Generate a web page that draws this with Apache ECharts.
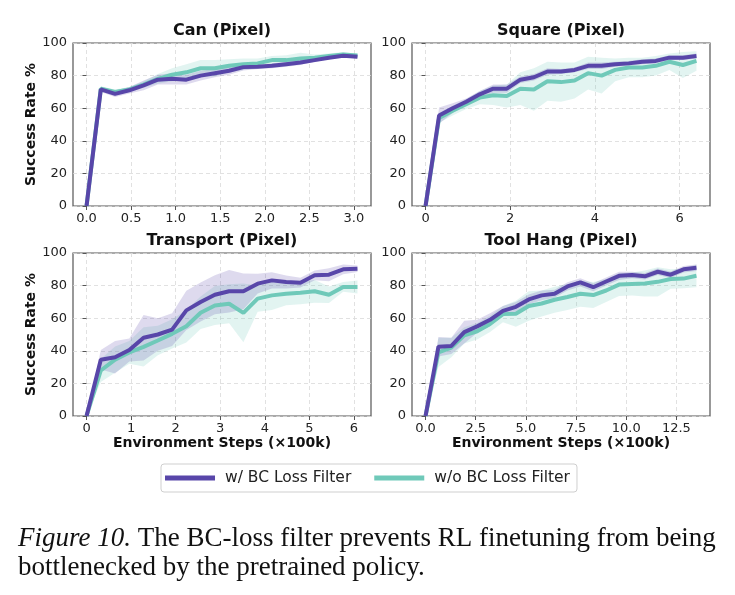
<!DOCTYPE html>
<html>
<head>
<meta charset="utf-8">
<script src="https://cdn.jsdelivr.net/npm/echarts@6/dist/echarts.min.js"></script>
<style>
html, body { margin: 0; padding: 0; background: #fff; }
#chart { width: 735px; height: 595px; }
</style>
</head>
<body>
<div id="chart"></div>
<script>
// legend names
const nameWith = 'w/ BC Loss Filter';
const nameWithout = 'w/o BC Loss Filter';

// Can (Pixel)
const canSteps = [0, 0.16, 0.32, 0.48, 0.64, 0.8, 0.96, 1.12, 1.28, 1.44, 1.6, 1.76, 1.92, 2.08, 2.24, 2.4, 2.56, 2.72, 2.88, 3.04];
const canWith = [0, 71.5, 68.8, 71, 74, 77.5, 78, 77.5, 80, 81.5, 83, 85.2, 85.5, 86, 87, 88, 89.5, 91, 92.2, 91.5];
const canWithStd = [0, 1.5, 2, 2, 3, 3, 3.5, 3, 3, 2.5, 2.5, 2, 1.5, 1.5, 1.5, 1.5, 1, 1, 1, 1];
const canWithout = [0, 72, 70, 71.5, 74.5, 78, 80.5, 82, 84.5, 84.5, 86, 87, 87.5, 89.5, 89.5, 90.5, 91, 92, 93, 92.3];
const canWithoutStd = [0, 1.5, 1.5, 1.5, 2, 3, 4, 5, 5, 5, 4, 3.5, 3, 2.5, 3, 3.5, 2, 1.5, 1.5, 1];
const canTicks = [0, 0.5, 1, 1.5, 2, 2.5, 3];

// Square (Pixel)
const sqSteps = [0, 0.32, 0.64, 0.96, 1.28, 1.6, 1.92, 2.24, 2.56, 2.88, 3.2, 3.52, 3.84, 4.16, 4.48, 4.8, 5.12, 5.44, 5.76, 6.08, 6.4];
const sqWith = [0, 55.5, 60, 64, 68.5, 72, 72, 77.5, 79, 82.5, 82.5, 83.5, 86, 86, 87, 87.5, 88.5, 89, 91, 91, 92];
const sqWithStd = [0, 5, 3, 2, 2, 2.5, 2.5, 2, 2, 2, 1.5, 1.5, 2, 2, 1.5, 1.5, 1.5, 1.5, 1.5, 1.5, 1.5];
const sqWithout = [0, 54, 58.5, 62.5, 66.5, 68, 67.5, 72, 71.5, 76.5, 76, 77, 81.5, 80, 83.5, 85, 85, 86, 88.5, 86.5, 89];
const sqWithoutStd = [0, 3, 3, 3, 4, 6, 7, 10, 13, 12, 12, 11, 10, 11, 7, 6, 6, 6, 5, 8, 6];
const sqTicks = [0, 2, 4, 6];

// Transport (Pixel)
const trSteps = [0, 0.32, 0.64, 0.96, 1.28, 1.6, 1.92, 2.24, 2.56, 2.88, 3.2, 3.52, 3.84, 4.16, 4.48, 4.8, 5.12, 5.44, 5.76, 6.08];
const trWith = [0, 34.5, 36, 40.5, 48, 50, 53, 64.8, 69.9, 74.4, 76.5, 76.5, 81.2, 83.2, 82.2, 81.8, 86.3, 86.7, 90, 90.4];
const trWithStd = [0, 6, 10, 7, 14, 10, 10, 12, 12, 12, 13, 11, 6, 5, 4, 3, 3, 4, 3, 2];
const trWithout = [0, 27.9, 34.6, 39, 42.4, 46.3, 50.4, 55.1, 63.3, 67.8, 68.9, 63.3, 72, 74, 75, 75.6, 76.5, 74.4, 79.2, 79.2];
const trWithoutStd = [0, 7, 8, 7, 12, 9, 9, 10, 10, 12, 12, 18, 8, 9, 7, 7, 7, 5, 3, 4];
const trTicks = [0, 1, 2, 3, 4, 5, 6];

// Tool Hang (Pixel)
const thSteps = [0, 0.643, 1.286, 1.929, 2.571, 3.214, 3.857, 4.5, 5.143, 5.786, 6.429, 7.071, 7.714, 8.357, 9, 9.643, 10.286, 10.929, 11.571, 12.214, 12.857, 13.5];
const thWith = [0, 42.5, 43, 51.5, 55, 59, 64.5, 67, 71.5, 74, 75, 79.5, 82, 79, 82.5, 86, 86.5, 85.7, 88.5, 86.7, 90, 91];
const thWithStd = [0, 6, 5, 7, 4, 4, 3, 3, 3, 3, 2.5, 2.5, 2.5, 2.5, 2.5, 2.5, 2, 2, 2, 2, 2, 2];
const thWithout = [0, 39, 42, 49.5, 52, 56.5, 62.5, 62.7, 67.5, 69, 71.3, 73, 75, 74.2, 77, 80.6, 81, 81.3, 82.3, 84, 84.3, 86];
const thWithoutStd = [0, 9, 6, 5, 5, 5, 5, 8, 9, 8, 8, 8, 8, 8, 7, 7, 7, 8, 9, 6, 6, 7];
const thTicks = [0, 2.5, 5, 7.5, 10, 12.5];

const purple = '#5846a9';
const teal = '#6fc9b9';

const panels = [
  { title: 'Can (Pixel)', steps: canSteps, w: canWith, wStd: canWithStd, wo: canWithout, woStd: canWithoutStd, ticks: canTicks, dec: 1, left: 73, top: 43, xmin: -0.152, xmax: 3.192 },
  { title: 'Square (Pixel)', steps: sqSteps, w: sqWith, wStd: sqWithStd, wo: sqWithout, woStd: sqWithoutStd, ticks: sqTicks, dec: 0, left: 412, top: 43, xmin: -0.32, xmax: 6.72 },
  { title: 'Transport (Pixel)', steps: trSteps, w: trWith, wStd: trWithStd, wo: trWithout, woStd: trWithoutStd, ticks: trTicks, dec: 0, left: 73, top: 253, xmin: -0.304, xmax: 6.384 },
  { title: 'Tool Hang (Pixel)', steps: thSteps, w: thWith, wStd: thWithStd, wo: thWithout, woStd: thWithoutStd, ticks: thTicks, dec: 1, left: 412, top: 253, xmin: -0.675, xmax: 14.175 }
];
const plotW = 298, plotH = 163;

const pairs = (xs, ys) => xs.map((x, i) => [x, ys[i]]);

// mean ± std band, drawn as one polygon through the axis scales
function bandSeries(i, xs, m, s, color) {
  return {
    type: 'custom', xAxisIndex: i, yAxisIndex: i, silent: true, z: 1,
    data: xs.map((x, j) => [x, m[j] - s[j], m[j] + s[j]]),
    encode: { x: 0, y: [1, 2] },
    renderItem: (params, api) => {
      if (params.dataIndex !== 0) return null;
      const upper = xs.map((x, j) => api.coord([x, m[j] + s[j]]));
      const lower = xs.map((x, j) => api.coord([x, m[j] - s[j]])).reverse();
      return { type: 'polygon', shape: { points: upper.concat(lower) }, style: { fill: color, opacity: 0.2 } };
    }
  };
}

const chart = echarts.init(document.getElementById('chart'));

const grid = [], xAxis = [], yAxis = [], series = [], title = [];

panels.forEach((p, i) => {
  const isLeft = i % 2 === 0;
  const isBottom = i >= 2;
  grid.push({ left: p.left, top: p.top, width: plotW, height: plotH, show: true, borderColor: '#555', borderWidth: 1.2, backgroundColor: 'transparent' });
  title.push({
    text: p.title, left: p.left + plotW / 2, top: p.top - 20, textAlign: 'center', padding: 0,
    textStyle: { fontFamily: 'DejaVu Sans', fontWeight: 'bold', fontSize: 16, color: '#111' }
  });
  xAxis.push({
    type: 'value', gridIndex: i, min: p.xmin, max: p.xmax,
    axisLine: { show: false },
    axisTick: { show: true, customValues: p.ticks, length: 4, lineStyle: { color: '#555' } },
    axisLabel: { customValues: p.ticks, formatter: v => v.toFixed(p.dec), fontSize: 13, color: '#222', margin: 6, fontFamily: 'DejaVu Sans' },
    splitLine: { show: true, lineStyle: { type: [4, 3], color: '#d9d9d9', width: 0.8 } },
    name: isBottom ? 'Environment Steps (×100k)' : '',
    nameLocation: 'middle', nameGap: 20,
    nameTextStyle: { fontFamily: 'DejaVu Sans', fontWeight: 'bold', fontSize: 14, color: '#111' }
  });
  yAxis.push({
    type: 'value', gridIndex: i, min: 0, max: 100, interval: 20,
    axisLine: { show: false },
    axisTick: { show: true, length: 4, lineStyle: { color: '#555' } },
    axisLabel: { fontSize: 13, color: '#222', margin: 6, fontFamily: 'DejaVu Sans' },
    splitLine: { show: true, lineStyle: { type: [4, 3], color: '#d9d9d9', width: 0.8 } },
    name: isLeft ? 'Success Rate %' : '',
    nameLocation: 'middle', nameGap: 31,
    nameTextStyle: { fontFamily: 'DejaVu Sans', fontWeight: 'bold', fontSize: 14, color: '#111' }
  });

  series.push(bandSeries(i, p.steps, p.wo, p.woStd, teal));
  series.push(bandSeries(i, p.steps, p.w, p.wStd, purple));
  series.push({ name: nameWithout, type: 'line', xAxisIndex: i, yAxisIndex: i, data: pairs(p.steps, p.wo), symbol: 'none', lineStyle: { color: teal, width: 4 }, itemStyle: { color: teal }, z: 2 });
  series.push({ name: nameWith, type: 'line', xAxisIndex: i, yAxisIndex: i, data: pairs(p.steps, p.w), symbol: 'none', lineStyle: { color: purple, width: 4 }, itemStyle: { color: purple }, z: 3 });
});

const option = {
  animation: false,
  backgroundColor: '#fff',
  textStyle: { fontFamily: 'DejaVu Sans' },
  title: title,
  grid: grid,
  xAxis: xAxis,
  yAxis: yAxis,
  series: series,
  legend: {
    data: [nameWith, nameWithout],
    left: 'center', top: 464,
    icon: 'rect', itemWidth: 50, itemHeight: 5, itemGap: 23,
    padding: [6, 7, 6, 4],
    borderColor: '#cfcfcf', borderWidth: 1, borderRadius: 3,
    textStyle: { fontFamily: 'DejaVu Sans', fontSize: 15.5, color: '#222', padding: [0, 0, 0, 5] }
  },
  graphic: [
    {
      type: 'text', left: 18, top: 525,
      style: {
        text: '{i|Figure 10.} The BC-loss filter prevents RL finetuning from being',
        font: '27px "Liberation Serif"', fill: '#111',
        rich: { i: { fontStyle: 'italic', fontFamily: 'Liberation Serif', fontSize: 27 } }
      }
    },
    {
      type: 'text', left: 18, top: 554,
      style: { text: 'bottlenecked by the pretrained policy.', font: '27px "Liberation Serif"', fill: '#111' }
    }
  ]
};

chart.setOption(option);
</script>
</body>
</html>
